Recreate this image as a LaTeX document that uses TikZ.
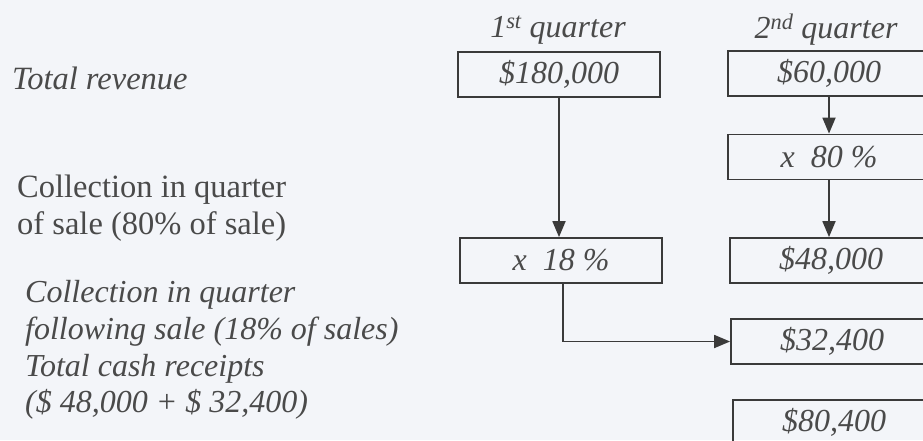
\documentclass[tikz,border=0pt]{standalone}
\usepackage{fontspec}
\setmainfont{Liberation Serif}
\usetikzlibrary{arrows.meta}
\definecolor{bgc}{HTML}{F3F5F9}
\definecolor{txt}{HTML}{4A4A4A}
\definecolor{ln}{HTML}{3A3A3A}
\tikzset{
  box/.style={draw=ln, line width=1.8pt, minimum width=202pt, minimum height=45pt, inner sep=0pt,
    font=\fontsize{32}{37}\selectfont\itshape, text=txt},
  lbl/.style={inner sep=0pt, anchor=west, align=left, text=txt},
  head/.style={inner sep=0pt, font=\fontsize{32}{37}\selectfont\itshape, text=txt},
  arr/.style={draw=ln, line width=1.8pt, -{Triangle[length=16pt,width=13pt]}},
}
\begin{document}
\begin{tikzpicture}[x=1pt,y=-1pt]
\useasboundingbox (0,0) rectangle (923,440);
\fill[bgc] (0,0) rectangle (923,440);
\clip (0,0) rectangle (923,440);
% headings
\node[head] (q1) at (558,30) {1\textsuperscript{st} quarter};
\node[head] (q2) at (826,30) {2\textsuperscript{nd} quarter};
% left labels
\node[lbl, font=\fontsize{32.5}{37}\selectfont\itshape] (tr) at (12,78) {Total revenue};
\node[lbl, font=\fontsize{32.5}{37}\selectfont] (cq) at (17,208.5) {Collection in quarter\\of sale (80\% of sale)};
\node[lbl, font=\fontsize{32}{36.7}\selectfont\itshape] (cf) at (25,350) {Collection in quarter\\following sale (18\% of sales)\\Total cash receipts\\(\$ 48,000 + \$ 32,400)};
% boxes
\node[box] (b1) at (559,74.5) {\$180,000};
\node[box] (b2) at (829,73.5) {\$60,000};
\node[box] (b80) at (829,157) {x\ \ 80 \%};
\node[box] (b18) at (561,260.5) {x\ \ 18 \%};
\node[box] (b48) at (831,260.5) {\$48,000};
\node[box] (b324) at (832,341.5) {\$32,400};
\node[box] (b804) at (834,422.5) {\$80,400};
% connectors
\draw[arr] (b1.south) -- (b1.south |- b18.north);
\draw[arr] (b2.south) -- (b2.south |- b80.north);
\draw[arr] (b80.south) -- (b80.south |- b48.north);
\draw[arr] ([xshift=2pt]b18.south) |- (b324.west);
\end{tikzpicture}
\end{document}
